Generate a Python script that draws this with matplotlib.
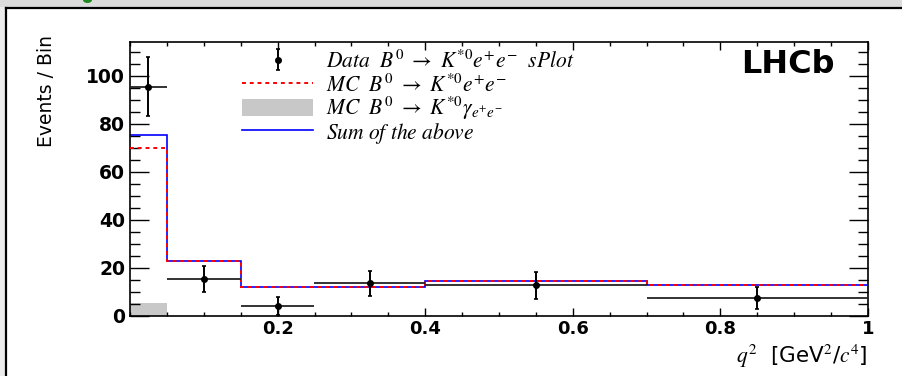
import numpy as np
import matplotlib
matplotlib.use("Agg")
import matplotlib.pyplot as plt
from matplotlib.patches import Rectangle, Ellipse
from matplotlib.lines import Line2D
from matplotlib.ticker import MultipleLocator, FixedLocator, FixedFormatter

plt.rcParams['font.family'] = ['DejaVu Sans']
plt.rcParams['mathtext.fontset'] = 'stix'

# ---- data ----
bin_edges = [0.0, 0.05, 0.15, 0.25, 0.40, 0.70, 1.00]
data_y = [95.5, 15.3, 4.0, 13.5, 12.6, 7.4]
data_err = [12.4, 5.5, 3.6, 5.2, 5.7, 4.6]
mc_ee = [70.0, 22.6, 12.0, 12.0, 14.6, 12.6]
mc_gamma = [5.5, 0.0, 0.0, 0.0, 0.0, 0.0]
mc_sum = [75.5, 22.6, 12.0, 12.0, 14.6, 12.6]

xtick_vals = [0.2, 0.4, 0.6, 0.8, 1.0]
xtick_labels = ["0.2", "0.4", "0.6", "0.8", "1"]
ytick_vals = [0, 20, 40, 60, 80, 100]
ytick_labels = ["0", "20", "40", "60", "80", "100"]

label_data = r"$Data\ \ B^{0}\ \rightarrow\ K^{*0}e^{+}e^{-}\ \ sPlot$"
label_mc = r"$MC\ \ B^{0}\ \rightarrow\ K^{*0}e^{+}e^{-}$"
label_gamma = r"$MC\ \ B^{0}\ \rightarrow\ K^{*0}\gamma_{e^{+}e^{-}}$"
label_sum = r"$Sum\ of\ the\ above$"

W, H = 903, 376
fig = plt.figure(figsize=(W / 100, H / 100), dpi=100)
fig.patch.set_facecolor('white')

# slide-like frame decorations
fig.patches.append(Rectangle((0, 1 - 7 / H), 1, 7 / H, transform=fig.transFigure,
                             facecolor='#dcdcdc', edgecolor='none', zorder=0))
fig.patches.append(Rectangle((0, 0), 5.5 / W, 1 - 7 / H, transform=fig.transFigure,
                             facecolor='#ececec', edgecolor='none', zorder=0))
fig.lines.append(Line2D([6.5 / W, 1], [1 - 7.5 / H, 1 - 7.5 / H], transform=fig.transFigure,
                        color='black', lw=1.6))
fig.lines.append(Line2D([6.5 / W, 6.5 / W], [0, 1 - 7.5 / H], transform=fig.transFigure,
                        color='black', lw=1.6))
fig.patches.append(Ellipse((87.5 / W, 1.0), 9 / W, 6 / H, transform=fig.transFigure,
                           facecolor='#1f8a1f', edgecolor='none', zorder=1))

ax = fig.add_axes([130 / W, 1 - 315.7 / H, 738 / W, 274 / H])

edges = np.array(bin_edges)
centers = 0.5 * (edges[:-1] + edges[1:])
halfw = 0.5 * np.diff(edges)

h_gamma = ax.stairs(mc_gamma, edges, fill=True, color='#c8c8c8', baseline=0,
                    label=label_gamma, zorder=1)
h_sum = ax.stairs(mc_sum, edges, color='#0000ff', lw=1.2, baseline=None,
                  label=label_sum, zorder=2)
h_mc = ax.stairs(mc_ee, edges, color='#ff0000', lw=1.4, ls=(0, (2, 2)),
                 baseline=None, label=label_mc, zorder=3)
ax.errorbar(centers, data_y, xerr=halfw, fmt='none', ecolor='#222222',
            elinewidth=1.3, zorder=4)
h_data = ax.errorbar(centers, data_y, yerr=data_err, fmt='o', color='black',
                     ms=4, elinewidth=1.4, capsize=1.5, capthick=1.2,
                     label=label_data, zorder=5)

ax.set_xlim(0, 1)
ax.set_ylim(0, 114.2)

ax.xaxis.set_major_locator(FixedLocator(xtick_vals))
ax.xaxis.set_major_formatter(FixedFormatter(xtick_labels))
ax.xaxis.set_minor_locator(MultipleLocator(0.05))
ax.yaxis.set_major_locator(FixedLocator(ytick_vals))
ax.yaxis.set_major_formatter(FixedFormatter(ytick_labels))
ax.yaxis.set_minor_locator(MultipleLocator(5))

ax.tick_params(axis='both', which='both', direction='in', top=True, right=True,
               color='black', width=1.0)
ax.tick_params(axis='y', which='major', length=13.5, pad=3.5)
ax.tick_params(axis='y', which='minor', length=7)
ax.tick_params(axis='x', which='major', length=6, pad=3)
ax.tick_params(axis='x', which='minor', length=3)
for lab in ax.get_yticklabels():
    lab.set_fontweight('bold')
    lab.set_fontsize(13.5)
for lab in ax.get_xticklabels():
    lab.set_fontweight('bold')
    lab.set_fontsize(13)
for sp in ax.spines.values():
    sp.set_linewidth(1.2)

fig.text(47 / W, 1 - 91 / H, "Events / Bin", rotation=90, ha='center', va='center',
         fontsize=13.5)
fig.text(868 / W, 1 - 343 / H, r"$q^{2}$  [GeV$^{2}$/$c^{4}$]", ha='right', va='top',
         fontsize=15.5)
ax.text(0.955, 0.915, "LHCb", transform=ax.transAxes, ha='right', va='center',
        fontsize=23, fontweight='bold')

# legend: one row per entry so the row spacing matches the original
rows = [(h_data, label_data, 60.5), (h_mc, label_mc, 84.5),
        (h_gamma, label_gamma, 108.5), (h_sum, label_sum, 133.5)]
for i, (hd, lb, yc) in enumerate(rows):
    leg = ax.legend(handles=[hd], labels=[lb], loc='center left',
                    bbox_to_anchor=(242 / W, 1 - yc / H), bbox_transform=fig.transFigure,
                    frameon=False, fontsize=15.5, handlelength=3.3, handletextpad=0.6,
                    borderpad=0, borderaxespad=0, handleheight=0.85)
    if i < len(rows) - 1:
        ax.add_artist(leg)

fig.savefig("out.png", dpi=100)
